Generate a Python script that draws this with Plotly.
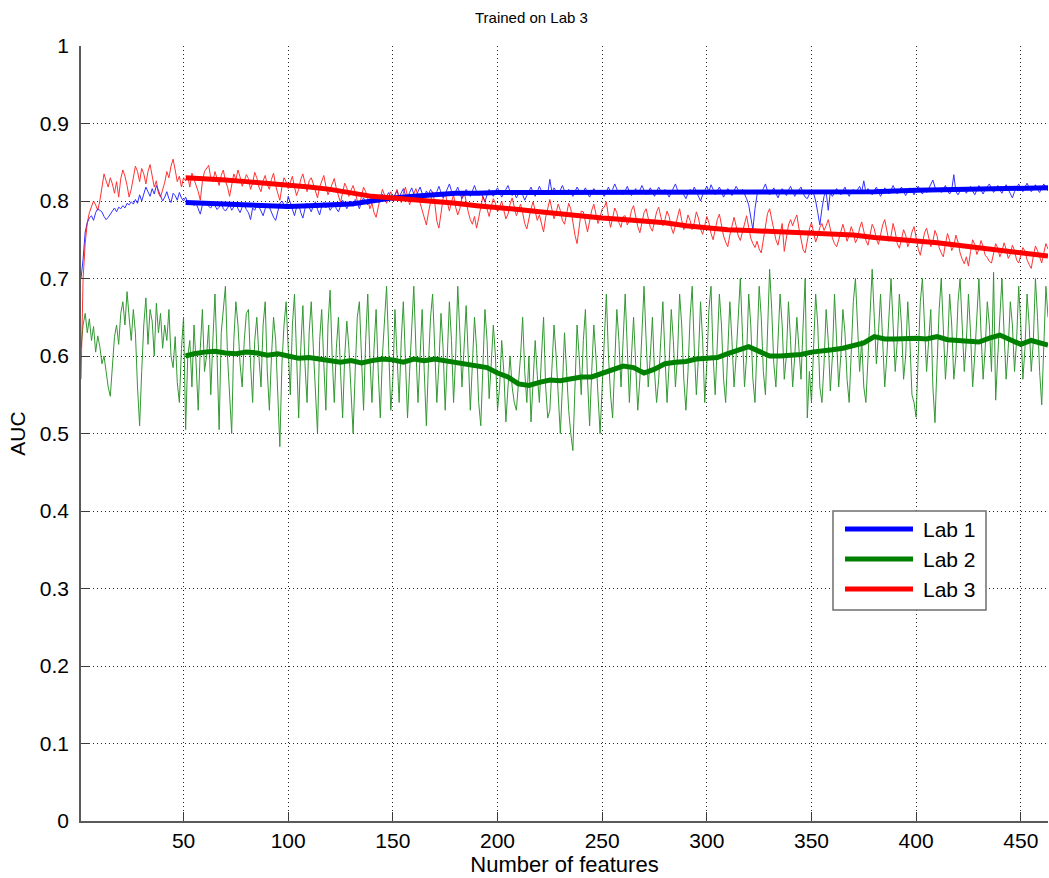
import plotly.graph_objects as go

# ---- data -------------------------------------------------------------
n_features = 463
features = list(range(1, n_features + 1))

lab1_auc = [
    0.700, 0.725, 0.760, 0.772, 0.778, 0.781, 0.775, 0.785, 0.790, 0.788,
    0.786, 0.780, 0.776, 0.779, 0.783, 0.788, 0.791, 0.786, 0.792, 0.790,
    0.794, 0.791, 0.797, 0.795, 0.799, 0.796, 0.802, 0.797, 0.808, 0.800,
    0.810, 0.818, 0.812, 0.806, 0.816, 0.809, 0.820, 0.813, 0.808, 0.800,
    0.805, 0.812, 0.803, 0.798, 0.810, 0.807, 0.801, 0.811, 0.804, 0.800,
    0.805, 0.798, 0.796, 0.800, 0.794, 0.797, 0.790, 0.783, 0.795, 0.799,
    0.797, 0.793, 0.791, 0.796, 0.794, 0.789, 0.792, 0.798, 0.790, 0.787,
    0.791, 0.795, 0.788, 0.793, 0.797, 0.790, 0.785, 0.792, 0.795, 0.789,
    0.785, 0.776, 0.791, 0.788, 0.795, 0.793, 0.786, 0.781, 0.790, 0.796,
    0.792, 0.785, 0.779, 0.775, 0.788, 0.797, 0.800, 0.794, 0.790, 0.806,
    0.798, 0.788, 0.781, 0.792, 0.796, 0.785, 0.778, 0.790, 0.797, 0.792,
    0.786, 0.794, 0.799, 0.789, 0.782, 0.793, 0.798, 0.791, 0.795, 0.788,
    0.792, 0.798, 0.790, 0.786, 0.794, 0.801, 0.796, 0.790, 0.797, 0.800,
    0.793, 0.802, 0.797, 0.790, 0.799, 0.804, 0.798, 0.795, 0.802, 0.808,
    0.800, 0.806, 0.798, 0.803, 0.809, 0.801, 0.806, 0.811, 0.804, 0.800,
    0.808, 0.813, 0.805, 0.810, 0.816, 0.808, 0.803, 0.811, 0.817, 0.809,
    0.806, 0.812, 0.818, 0.810, 0.805, 0.813, 0.808, 0.815, 0.810, 0.806,
    0.812, 0.819, 0.811, 0.804, 0.809, 0.816, 0.822, 0.813, 0.807, 0.812,
    0.818, 0.810, 0.803, 0.808, 0.815, 0.811, 0.806, 0.813, 0.820, 0.812,
    0.807, 0.812, 0.804, 0.799, 0.808, 0.815, 0.810, 0.806, 0.813, 0.817,
    0.811, 0.805, 0.810, 0.816, 0.820, 0.812, 0.807, 0.811, 0.804, 0.809,
    0.814, 0.808, 0.801, 0.807, 0.813, 0.818, 0.811, 0.806, 0.812, 0.819,
    0.813, 0.808, 0.814, 0.810, 0.828, 0.811, 0.817, 0.812, 0.808, 0.814,
    0.820, 0.813, 0.809, 0.815, 0.811, 0.806, 0.812, 0.818, 0.813, 0.808,
    0.812, 0.817, 0.810, 0.805, 0.811, 0.816, 0.812, 0.808, 0.814, 0.810,
    0.806, 0.812, 0.818, 0.811, 0.815, 0.822, 0.814, 0.809, 0.813, 0.808,
    0.813, 0.819, 0.812, 0.807, 0.811, 0.816, 0.810, 0.814, 0.820, 0.813,
    0.808, 0.812, 0.817, 0.811, 0.806, 0.812, 0.818, 0.813, 0.809, 0.815,
    0.810, 0.805, 0.811, 0.816, 0.822, 0.814, 0.809, 0.813, 0.808, 0.803,
    0.810, 0.815, 0.811, 0.818, 0.812, 0.806, 0.800, 0.808, 0.814, 0.819,
    0.812, 0.821, 0.815, 0.808, 0.813, 0.818, 0.812, 0.805, 0.811, 0.816,
    0.812, 0.807, 0.813, 0.819, 0.814, 0.809, 0.815, 0.810, 0.803, 0.795,
    0.780, 0.763, 0.790, 0.808, 0.813, 0.810, 0.816, 0.822, 0.813, 0.808,
    0.812, 0.817, 0.810, 0.804, 0.811, 0.816, 0.812, 0.807, 0.814, 0.819,
    0.812, 0.806, 0.811, 0.815, 0.818, 0.810, 0.805, 0.803, 0.809, 0.815,
    0.810, 0.800, 0.785, 0.769, 0.790, 0.806, 0.812, 0.788, 0.811, 0.806,
    0.811, 0.816, 0.812, 0.808, 0.813, 0.818, 0.811, 0.806, 0.812, 0.815,
    0.810, 0.814, 0.819, 0.812, 0.826, 0.811, 0.816, 0.812, 0.808, 0.813,
    0.818, 0.812, 0.806, 0.811, 0.817, 0.813, 0.809, 0.814, 0.820, 0.814,
    0.809, 0.813, 0.818, 0.812, 0.807, 0.812, 0.817, 0.813, 0.808, 0.814,
    0.819, 0.813, 0.809, 0.815, 0.811, 0.816, 0.821, 0.827, 0.818, 0.812,
    0.815, 0.811, 0.816, 0.820, 0.813, 0.809, 0.814, 0.834, 0.812, 0.808,
    0.813, 0.818, 0.814, 0.810, 0.815, 0.819, 0.813, 0.808, 0.814, 0.820,
    0.814, 0.809, 0.815, 0.819, 0.822, 0.816, 0.811, 0.815, 0.820, 0.814,
    0.810, 0.816, 0.821, 0.815, 0.810, 0.804, 0.812, 0.818, 0.822, 0.816,
    0.812, 0.818, 0.823, 0.817, 0.812, 0.816, 0.821, 0.815, 0.811, 0.817,
    0.822, 0.816, 0.813,
]

lab2_auc = [
    0.610, 0.640, 0.655, 0.630, 0.648, 0.620, 0.638, 0.605, 0.626, 0.612,
    0.590, 0.600, 0.580, 0.560, 0.548, 0.595, 0.625, 0.640, 0.615, 0.655,
    0.670, 0.640, 0.683, 0.650, 0.620, 0.660, 0.630, 0.560, 0.510, 0.580,
    0.640, 0.675, 0.615, 0.660, 0.645, 0.600, 0.668, 0.630, 0.655, 0.610,
    0.640, 0.620, 0.660, 0.600, 0.585, 0.625, 0.566, 0.540, 0.610, 0.650,
    0.505, 0.600, 0.620, 0.560, 0.640, 0.590, 0.530, 0.610, 0.660, 0.580,
    0.600, 0.640, 0.550, 0.620, 0.680, 0.600, 0.505, 0.630, 0.660, 0.690,
    0.600, 0.540, 0.500, 0.620, 0.670, 0.640, 0.590, 0.560, 0.620, 0.655,
    0.660, 0.590, 0.540, 0.620, 0.650, 0.600, 0.560, 0.640, 0.670, 0.580,
    0.530, 0.600, 0.650, 0.620, 0.550, 0.483, 0.590, 0.640, 0.670, 0.600,
    0.550, 0.640, 0.680, 0.600, 0.520, 0.610, 0.665, 0.590, 0.540, 0.630,
    0.670, 0.610, 0.550, 0.500, 0.620, 0.660, 0.590, 0.530, 0.640, 0.685,
    0.600, 0.540, 0.610, 0.650, 0.580, 0.520, 0.600, 0.645, 0.610, 0.550,
    0.500, 0.580, 0.650, 0.670, 0.590, 0.530, 0.620, 0.680, 0.600, 0.540,
    0.610, 0.660, 0.580, 0.520, 0.600, 0.650, 0.690, 0.610, 0.530, 0.570,
    0.660, 0.600, 0.540, 0.620, 0.670, 0.595, 0.520, 0.580, 0.640, 0.690,
    0.610, 0.540, 0.600, 0.660, 0.580, 0.510, 0.590, 0.650, 0.680, 0.600,
    0.540, 0.590, 0.655, 0.610, 0.530, 0.600, 0.670, 0.620, 0.540, 0.600,
    0.690, 0.630, 0.560, 0.610, 0.665, 0.600, 0.530, 0.590, 0.650, 0.610,
    0.540, 0.510, 0.600, 0.660, 0.620, 0.545, 0.590, 0.640, 0.600, 0.530,
    0.560, 0.620, 0.580, 0.515, 0.560, 0.600, 0.560, 0.540, 0.530, 0.560,
    0.600, 0.650, 0.580, 0.540, 0.600, 0.515, 0.560, 0.620, 0.575, 0.540,
    0.600, 0.650, 0.560, 0.520, 0.530, 0.590, 0.640, 0.600, 0.545, 0.500,
    0.560, 0.630, 0.580, 0.530, 0.500, 0.478, 0.560, 0.640, 0.600, 0.550,
    0.620, 0.660, 0.570, 0.510, 0.580, 0.640, 0.600, 0.540, 0.500, 0.560,
    0.630, 0.680, 0.600, 0.550, 0.520, 0.590, 0.660, 0.620, 0.560, 0.620,
    0.680, 0.610, 0.540, 0.600, 0.650, 0.590, 0.530, 0.570, 0.640, 0.690,
    0.620, 0.560, 0.600, 0.650, 0.580, 0.540, 0.570, 0.630, 0.670, 0.600,
    0.540, 0.590, 0.660, 0.620, 0.560, 0.600, 0.680, 0.640, 0.570, 0.530,
    0.580, 0.650, 0.690, 0.610, 0.550, 0.600, 0.670, 0.620, 0.540, 0.590,
    0.660, 0.690, 0.600, 0.550, 0.620, 0.680, 0.640, 0.570, 0.540, 0.610,
    0.670, 0.620, 0.560, 0.600, 0.660, 0.700, 0.630, 0.560, 0.600, 0.680,
    0.640, 0.570, 0.540, 0.620, 0.690, 0.650, 0.580, 0.550, 0.630, 0.712,
    0.660, 0.590, 0.560, 0.620, 0.680, 0.640, 0.570, 0.600, 0.670, 0.620,
    0.560, 0.600, 0.650, 0.610, 0.570, 0.640, 0.700, 0.520, 0.580, 0.540,
    0.600, 0.680, 0.640, 0.560, 0.540, 0.590, 0.660, 0.620, 0.555, 0.600,
    0.680, 0.620, 0.560, 0.600, 0.660, 0.630, 0.570, 0.540, 0.610, 0.670,
    0.700, 0.640, 0.580, 0.620, 0.560, 0.540, 0.600, 0.660, 0.712, 0.650,
    0.590, 0.630, 0.680, 0.620, 0.560, 0.600, 0.660, 0.700, 0.640, 0.580,
    0.620, 0.680, 0.640, 0.570, 0.600, 0.670, 0.620, 0.550, 0.540, 0.521,
    0.600, 0.670, 0.700, 0.640, 0.580, 0.620, 0.660, 0.560, 0.514, 0.590,
    0.660, 0.700, 0.630, 0.570, 0.610, 0.680, 0.640, 0.570, 0.600, 0.670,
    0.700, 0.640, 0.580, 0.620, 0.680, 0.630, 0.560, 0.600, 0.660, 0.700,
    0.630, 0.570, 0.610, 0.670, 0.640, 0.580, 0.708, 0.543, 0.600, 0.660,
    0.700, 0.630, 0.570, 0.610, 0.670, 0.640, 0.580, 0.620, 0.690, 0.640,
    0.570, 0.610, 0.680, 0.640, 0.580, 0.620, 0.700, 0.650, 0.580, 0.537,
    0.620, 0.690, 0.650,
]

lab3_auc = [
    0.570, 0.700, 0.745, 0.772, 0.785, 0.792, 0.800, 0.795, 0.788, 0.800,
    0.815, 0.835, 0.826, 0.818, 0.830, 0.822, 0.810, 0.825, 0.805, 0.829,
    0.840, 0.832, 0.820, 0.805, 0.815, 0.830, 0.845, 0.838, 0.825, 0.842,
    0.835, 0.822, 0.838, 0.847, 0.830, 0.818, 0.826, 0.810, 0.805, 0.815,
    0.824, 0.838, 0.830, 0.845, 0.854, 0.840, 0.825, 0.832, 0.818, 0.830,
    0.826, 0.832, 0.818, 0.836, 0.828, 0.822, 0.812, 0.801, 0.825, 0.838,
    0.842, 0.846, 0.830, 0.825, 0.838, 0.829, 0.820, 0.833, 0.840, 0.826,
    0.818, 0.806, 0.822, 0.835, 0.828, 0.840, 0.831, 0.819, 0.826, 0.834,
    0.829, 0.815, 0.823, 0.837, 0.830, 0.818, 0.812, 0.826, 0.833, 0.821,
    0.815, 0.828, 0.836, 0.820, 0.810, 0.801, 0.818, 0.830, 0.825, 0.816,
    0.824, 0.832, 0.818, 0.807, 0.815, 0.828, 0.835, 0.821, 0.812, 0.826,
    0.830, 0.822, 0.813, 0.804, 0.818, 0.827, 0.833, 0.819, 0.808, 0.815,
    0.822, 0.829, 0.816, 0.805, 0.798, 0.811, 0.823, 0.817, 0.806, 0.814,
    0.820, 0.811, 0.800, 0.794, 0.808, 0.818, 0.812, 0.803, 0.790, 0.797,
    0.785, 0.779, 0.792, 0.806, 0.815, 0.808, 0.797, 0.805, 0.812, 0.800,
    0.809, 0.815, 0.804, 0.798, 0.810, 0.818, 0.806, 0.795, 0.803, 0.811,
    0.816, 0.807, 0.797, 0.790, 0.778, 0.769, 0.785, 0.800, 0.812, 0.798,
    0.774, 0.765, 0.788, 0.803, 0.810, 0.796, 0.787, 0.799, 0.808, 0.792,
    0.782, 0.790, 0.805, 0.813, 0.798, 0.786, 0.776, 0.770, 0.780, 0.765,
    0.778, 0.795, 0.806, 0.799, 0.788, 0.780, 0.793, 0.803, 0.797, 0.786,
    0.792, 0.800, 0.788, 0.777, 0.783, 0.796, 0.804, 0.791, 0.781, 0.788,
    0.796, 0.785, 0.771, 0.764, 0.778, 0.790, 0.799, 0.786, 0.775, 0.782,
    0.770, 0.760, 0.779, 0.793, 0.802, 0.789, 0.777, 0.785, 0.796, 0.788,
    0.775, 0.770, 0.784, 0.797, 0.790, 0.770, 0.756, 0.745, 0.768, 0.787,
    0.786, 0.772, 0.760, 0.774, 0.788, 0.796, 0.783, 0.771, 0.779, 0.790,
    0.792, 0.799, 0.780, 0.766, 0.778, 0.791, 0.785, 0.772, 0.766, 0.780,
    0.781, 0.769, 0.775, 0.788, 0.794, 0.780, 0.767, 0.759, 0.771, 0.785,
    0.790, 0.778, 0.766, 0.761, 0.774, 0.786, 0.792, 0.779, 0.768, 0.776,
    0.787, 0.780, 0.766, 0.758, 0.769, 0.783, 0.790, 0.775, 0.763, 0.770,
    0.782, 0.775, 0.763, 0.772, 0.786, 0.778, 0.764, 0.757, 0.768, 0.780,
    0.772, 0.758, 0.750, 0.762, 0.776, 0.783, 0.770, 0.755, 0.747, 0.741,
    0.756, 0.770, 0.779, 0.768, 0.755, 0.749, 0.760, 0.774, 0.781, 0.766,
    0.752, 0.745, 0.740, 0.748, 0.738, 0.733, 0.751, 0.772, 0.784, 0.790,
    0.775, 0.762, 0.750, 0.743, 0.758, 0.771, 0.735, 0.752, 0.769, 0.776,
    0.768, 0.776, 0.782, 0.765, 0.748, 0.737, 0.733, 0.750, 0.764, 0.772,
    0.760, 0.747, 0.755, 0.766, 0.771, 0.762, 0.768, 0.776, 0.764, 0.752,
    0.745, 0.741, 0.750, 0.762, 0.770, 0.760, 0.748, 0.756, 0.767, 0.759,
    0.746, 0.752, 0.765, 0.773, 0.760, 0.749, 0.743, 0.756, 0.770, 0.764,
    0.751, 0.744, 0.757, 0.769, 0.776, 0.762, 0.748, 0.755, 0.771, 0.760,
    0.745, 0.739, 0.752, 0.763, 0.756, 0.741, 0.748, 0.760, 0.767, 0.752,
    0.738, 0.730, 0.744, 0.759, 0.765, 0.752, 0.741, 0.748, 0.762, 0.755,
    0.740, 0.733, 0.728, 0.745, 0.758, 0.749, 0.736, 0.742, 0.756, 0.747,
    0.733, 0.725, 0.719, 0.728, 0.716, 0.735, 0.750, 0.744, 0.731, 0.738,
    0.749, 0.741, 0.730, 0.727, 0.722, 0.720, 0.734, 0.745, 0.739, 0.728,
    0.735, 0.746, 0.738, 0.726, 0.731, 0.743, 0.736, 0.724, 0.720, 0.732,
    0.740, 0.735, 0.724, 0.718, 0.713, 0.729, 0.742, 0.736, 0.727, 0.720,
    0.733, 0.745, 0.738,
]

# smoothed trends, sampled every few features from 51 onwards
lab1_trend_x = [51, 60, 70, 80, 90, 100, 110, 120, 130, 140, 150, 160, 170,
                180, 190, 200, 220, 240, 260, 280, 300, 320, 340, 360, 380,
                400, 420, 440, 463]
lab1_trend_y = [0.798, 0.797, 0.795, 0.794, 0.793, 0.793, 0.794, 0.795, 0.796,
                0.800, 0.804, 0.806, 0.808, 0.810, 0.810, 0.811, 0.811, 0.811,
                0.812, 0.812, 0.812, 0.811, 0.811, 0.811, 0.812, 0.814, 0.815,
                0.815, 0.817]

lab2_trend_x = [51, 55, 60, 65, 70, 75, 80, 85, 90, 95, 100, 105, 110, 115,
                120, 125, 130, 135, 140, 145, 150, 155, 160, 165, 170, 175,
                180, 185, 190, 195, 200, 205, 210, 215, 220, 225, 230, 235,
                240, 245, 250, 255, 260, 265, 270, 275, 280, 285, 290, 295,
                300, 305, 310, 315, 320, 325, 330, 335, 340, 345, 350, 355,
                360, 365, 370, 375, 380, 385, 390, 395, 400, 405, 410, 415,
                420, 425, 430, 435, 440, 445, 450, 455, 460, 463]
lab2_trend_y = [0.600, 0.603, 0.605, 0.606, 0.604, 0.603, 0.605, 0.604, 0.601,
                0.603, 0.600, 0.597, 0.598, 0.596, 0.593, 0.592, 0.594, 0.591,
                0.594, 0.596, 0.595, 0.592, 0.596, 0.594, 0.596, 0.594, 0.592,
                0.589, 0.587, 0.585, 0.578, 0.573, 0.564, 0.562, 0.566, 0.569,
                0.568, 0.570, 0.573, 0.573, 0.578, 0.582, 0.587, 0.585, 0.578,
                0.583, 0.590, 0.592, 0.593, 0.596, 0.597, 0.598, 0.603, 0.608,
                0.612, 0.606, 0.600, 0.600, 0.601, 0.602, 0.605, 0.606, 0.608,
                0.610, 0.613, 0.617, 0.625, 0.622, 0.622, 0.623, 0.623, 0.622,
                0.625, 0.621, 0.620, 0.619, 0.618, 0.623, 0.627, 0.621, 0.615,
                0.620, 0.617, 0.614]

lab3_trend_x = [51, 60, 70, 80, 90, 100, 110, 120, 130, 140, 150, 160, 170,
                180, 190, 200, 210, 220, 230, 240, 250, 260, 270, 280, 290,
                300, 310, 320, 330, 340, 350, 360, 370, 380, 390, 400, 410,
                420, 430, 440, 450, 463]
lab3_trend_y = [0.830, 0.829, 0.827, 0.825, 0.823, 0.821, 0.818, 0.815, 0.810,
                0.806, 0.804, 0.802, 0.800, 0.797, 0.794, 0.792, 0.789, 0.786,
                0.783, 0.780, 0.778, 0.776, 0.774, 0.772, 0.768, 0.765, 0.763,
                0.762, 0.761, 0.760, 0.758, 0.757, 0.756, 0.753, 0.751, 0.749,
                0.746, 0.743, 0.740, 0.737, 0.733, 0.729]

series_names = ["Lab 1", "Lab 2", "Lab 3"]
series_colors = ["rgb(0,0,255)", "rgb(0,128,0)", "rgb(255,0,0)"]

x_ticks = [50, 100, 150, 200, 250, 300, 350, 400, 450]
y_ticks = [0, 0.1, 0.2, 0.3, 0.4, 0.5, 0.6, 0.7, 0.8, 0.9, 1]
y_tick_text = ["0", "0.1", "0.2", "0.3", "0.4", "0.5", "0.6", "0.7", "0.8", "0.9", "1"]

# ---- figure -----------------------------------------------------------
FONT = "Liberation Sans, Arial, Helvetica, sans-serif"
fig = go.Figure()

raw = [lab1_auc, lab2_auc, lab3_auc]
trends = [(lab1_trend_x, lab1_trend_y), (lab2_trend_x, lab2_trend_y),
          (lab3_trend_x, lab3_trend_y)]

for vals, color in zip(raw, series_colors):
    fig.add_trace(go.Scatter(x=features, y=vals, mode="lines",
                             line=dict(color=color, width=1), opacity=0.8,
                             showlegend=False, hoverinfo="skip"))
for (tx, ty), color, name in zip(trends, series_colors, series_names):
    fig.add_trace(go.Scatter(x=tx, y=ty, mode="lines", name=name,
                             line=dict(color=color, width=5), showlegend=False))

# legend box drawn in pixel-like paper coordinates
W, H = 1049, 878
L, R, T, B = 81, 1, 46, 57
pw, ph = W - L - R, H - T - B


def px(x):
    return (x - L) / pw


def py(y):
    return 1 - (y - T) / ph


shapes = [dict(type="rect", xref="paper", yref="paper",
               x0=px(833), x1=px(986), y0=py(610), y1=py(511),
               line=dict(color="rgb(110,110,110)", width=1.5),
               fillcolor="white", layer="above")]
annotations = []
for i, (name, color) in enumerate(zip(series_names, series_colors)):
    yy = 529 + 30 * i
    shapes.append(dict(type="line", xref="paper", yref="paper",
                       x0=px(845), x1=px(913), y0=py(yy), y1=py(yy),
                       line=dict(color=color, width=5), layer="above"))
    annotations.append(dict(xref="paper", yref="paper", x=px(921), y=py(yy),
                            text=name, showarrow=False, xanchor="left",
                            yanchor="middle",
                            font=dict(family=FONT, size=21, color="black")))

annotations.append(dict(xref="paper", yref="paper", x=px(531), y=py(18),
                        text="Trained on Lab 3", showarrow=False,
                        xanchor="center", yanchor="middle",
                        font=dict(family=FONT, size=15, color="black")))

grid_common = dict(showgrid=True, gridcolor="rgb(40,40,40)",
                   griddash="1px,3px", gridwidth=1, zeroline=False,
                   ticks="inside", ticklen=9, tickcolor="rgb(60,60,60)",
                   showline=True, linewidth=1.5, linecolor="rgb(90,90,90)",
                   tickfont=dict(size=21))

fig.update_layout(
    width=W, height=H,
    margin=dict(l=L, r=R, t=T, b=B, pad=0),
    paper_bgcolor="white", plot_bgcolor="white",
    font=dict(family=FONT, size=20, color="black"),
    shapes=shapes, annotations=annotations,
    xaxis=dict(range=[1, 463], tickvals=x_ticks, **grid_common,
               title=dict(text="Number of features", font=dict(size=22),
                          standoff=3)),
    yaxis=dict(range=[0, 1], tickvals=y_ticks, ticktext=y_tick_text,
               ticklabelstandoff=6, **grid_common,
               title=dict(text="AUC", font=dict(size=21), standoff=8)),
)

fig.write_html("out.html")
